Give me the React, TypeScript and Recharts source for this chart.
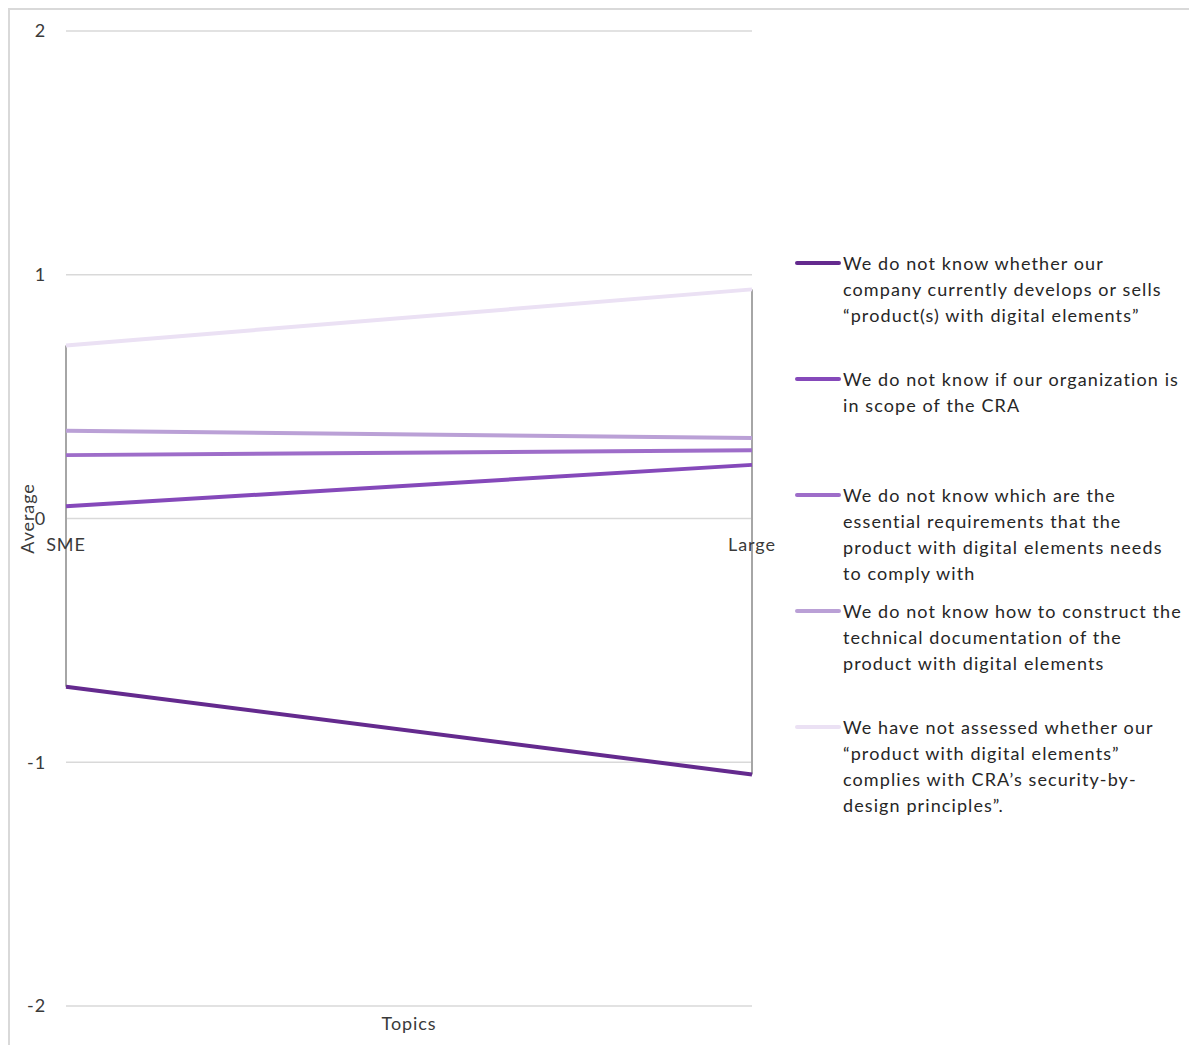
import {
  CartesianGrid,
  Legend,
  Line,
  LineChart,
  ReferenceDot,
  ReferenceLine,
  XAxis,
  YAxis,
} from "recharts";

const categories = ["SME", "Large"];
const dontKnowProducts = [-0.69, -1.05];
const dontKnowScope = [0.05, 0.22];
const dontKnowRequirements = [0.26, 0.28];
const dontKnowDocumentation = [0.36, 0.33];
const notAssessed = [0.71, 0.94];
const yTicks = [-2, -1, 0, 1, 2];

const series = [
  {
    key: "products",
    name: "We do not know whether our\ncompany currently develops or sells\n“product(s) with digital elements”",
    values: dontKnowProducts,
    color: "#642a8e",
  },
  {
    key: "scope",
    name: "We do not know if our organization is\nin scope of the CRA",
    values: dontKnowScope,
    color: "#8549ba",
  },
  {
    key: "requirements",
    name: "We do not know which are the\nessential requirements that the\nproduct with digital elements needs\nto comply with",
    values: dontKnowRequirements,
    color: "#9e6dc9",
  },
  {
    key: "documentation",
    name: "We do not know how to construct the\ntechnical documentation of the\nproduct with digital elements",
    values: dontKnowDocumentation,
    color: "#baa0d6",
  },
  {
    key: "assessed",
    name: "We have not assessed whether our\n“product with digital elements”\ncomplies with CRA’s security-by-\ndesign principles”.",
    values: notAssessed,
    color: "#ebe1f4",
  },
];

const data = categories.map((topic, i) => {
  const row: Record<string, string | number> = { topic };
  series.forEach((s) => {
    row[s.key] = s.values[i];
  });
  return row;
});

const textColor = "#3a3a3a";

function LegendBox() {
  return (
    <div style={{ position: "relative", width: 400, height: 560 }}>
      {series.map((s, i) => (
        <div key={s.key} style={{ position: "absolute", left: 0, top: i * 116, display: "flex" }}>
          <div
            style={{
              width: 46,
              height: 4,
              borderRadius: 2,
              background: s.color,
              marginTop: 11,
              marginRight: 2,
              flexShrink: 0,
            }}
          />
          <div
            style={{
              whiteSpace: "pre-line",
              lineHeight: "26px",
              fontSize: 18,
              letterSpacing: 1.1,
              color: "#262626",
            }}
          >
            {s.name}
          </div>
        </div>
      ))}
    </div>
  );
}

function AverageLabel(props: any) {
  const { viewBox } = props;
  const x = viewBox.x + 17;
  const y = viewBox.y + viewBox.height / 2;
  return (
    <text
      x={x}
      y={y}
      transform={`rotate(-90, ${x}, ${y})`}
      textAnchor="middle"
      dominantBaseline="central"
      fontSize={18}
      fill={textColor}
    >
      Average
    </text>
  );
}

export default function App() {
  return (
    <div
      style={{
        position: "relative",
        width: 1187,
        height: 1043,
        marginBottom: -8,
        borderTop: "2px solid #d9d9d9",
        borderLeft: "2px solid #d9d9d9",
        fontFamily: "Lato, sans-serif",
        letterSpacing: 0.9,
      }}
    >
      <div style={{ position: "absolute", left: 0, top: 0 }}>
        <LineChart
          width={1170}
          height={1035}
          data={data}
          margin={{ top: 21, right: 428, bottom: 9, left: 0 }}
        >
          <CartesianGrid vertical={false} stroke="#d9d9d9" strokeWidth={1.5} />
          <XAxis
            dataKey="topic"
            height={30}
            tick={false}
            tickLine={false}
            axisLine={false}
            label={{ value: "Topics", position: "insideTop", offset: 11, fontSize: 18, fill: textColor }}
          />
          <YAxis
            domain={[-2, 2]}
            ticks={yTicks}
            width={56}
            axisLine={false}
            tickLine={false}
            tickSize={6}
            tickMargin={14}
            tick={{ fontSize: 18, fill: textColor }}
            label={<AverageLabel />}
          />
          {categories.map((c, i) => {
            const vals = series.map((s) => s.values[i]);
            return (
              <ReferenceLine
                key={`hl-${c}`}
                segment={[
                  { x: c, y: Math.min(...vals) },
                  { x: c, y: Math.max(...vals) },
                ]}
                stroke="#a6a6a6"
                strokeWidth={2}
              />
            );
          })}
          {series.map((s) => (
            <Line
              key={s.key}
              type="linear"
              dataKey={s.key}
              name={s.name}
              stroke={s.color}
              strokeWidth={4}
              dot={false}
              activeDot={false}
              isAnimationActive={false}
            />
          ))}
          {categories.map((c) => (
            <ReferenceDot
              key={`lbl-${c}`}
              x={c}
              y={0}
              r={0}
              fill="none"
              stroke="none"
              label={{ value: c, position: "bottom", offset: 20, fontSize: 18, fill: textColor }}
            />
          ))}
          <Legend
            layout="horizontal"
            verticalAlign="middle"
            align="center"
            wrapperStyle={{ left: 785, top: 240, width: 400 }}
            content={<LegendBox />}
          />
        </LineChart>
      </div>
    </div>
  );
}
